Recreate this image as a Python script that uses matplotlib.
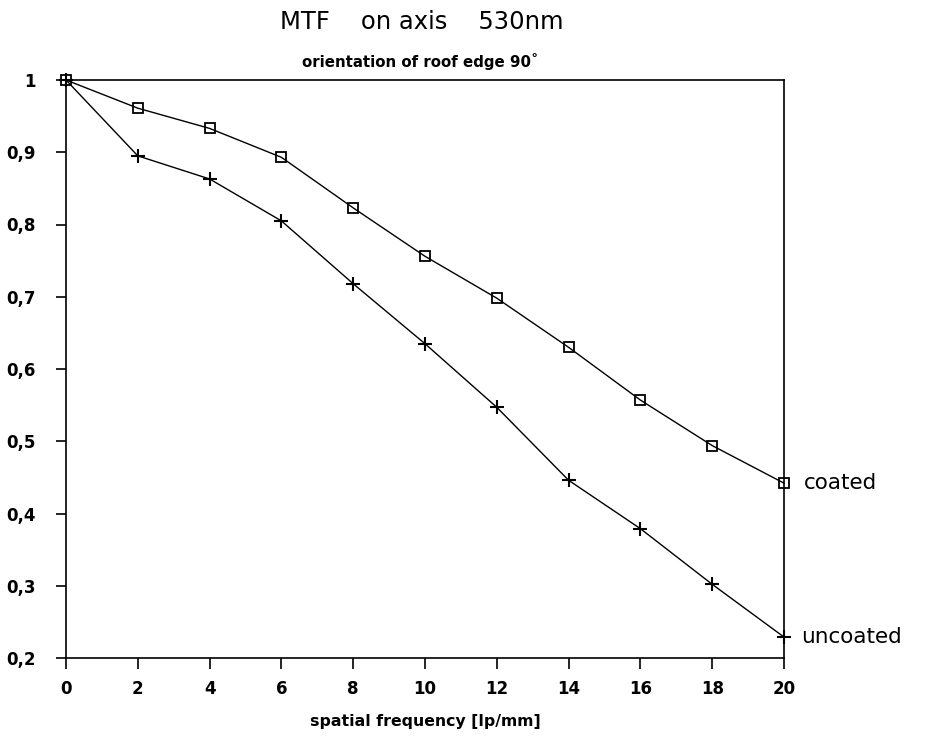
import matplotlib
matplotlib.use("Agg")
import matplotlib.pyplot as plt
from matplotlib.ticker import FixedLocator, FuncFormatter

# data
freq = [0, 2, 4, 6, 8, 10, 12, 14, 16, 18, 20]
coated = [1.0, 0.961, 0.933, 0.893, 0.823, 0.756, 0.698, 0.630, 0.557, 0.494, 0.442]
uncoated = [1.0, 0.895, 0.863, 0.805, 0.718, 0.635, 0.547, 0.446, 0.379, 0.302, 0.229]
x_ticks = [0, 2, 4, 6, 8, 10, 12, 14, 16, 18, 20]
y_ticks = [0.2, 0.3, 0.4, 0.5, 0.6, 0.7, 0.8, 0.9, 1.0]

plt.rcParams['font.family'] = ['DejaVu Sans']

fig = plt.figure(figsize=(9.26, 7.38), dpi=100)
W, H = 926, 738
left, right, top, bottom = 66, 784, 80, 658
ax = fig.add_axes([left / W, 1 - bottom / H, (right - left) / W, (bottom - top) / H])

ax.plot(freq, coated, color='black', lw=1.0, marker='s', markersize=7.5,
        markerfacecolor='none', markeredgecolor='black', markeredgewidth=1.3,
        clip_on=False)
ax.plot(freq, uncoated, color='black', lw=1.0, marker='+', markersize=10,
        markeredgewidth=1.5, clip_on=False)

ax.set_xlim(0, 20)
ax.set_ylim(0.2, 1.0)
ax.xaxis.set_major_locator(FixedLocator(x_ticks))
ax.yaxis.set_major_locator(FixedLocator(y_ticks))

def yfmt(v, pos):
    if abs(v - 1.0) < 1e-9:
        return "1"
    return ("%.1f" % v).replace('.', ',')

ax.yaxis.set_major_formatter(FuncFormatter(yfmt))
ax.tick_params(axis='x', direction='out', length=8, width=1.2, pad=8,
               labelsize=12)
ax.tick_params(axis='y', direction='out', length=7, width=1.2, pad=15,
               labelsize=12)
for lab in ax.get_xticklabels() + ax.get_yticklabels():
    lab.set_fontweight('bold')

for sp in ax.spines.values():
    sp.set_linewidth(1.2)
    sp.set_color('black')

ax.annotate('coated', xy=(freq[-1], coated[-1]), xytext=(14, 0),
            textcoords='offset points', fontsize=15.5, va='center', ha='left')
ax.annotate('uncoated', xy=(freq[-1], uncoated[-1]), xytext=(12, 0),
            textcoords='offset points', fontsize=15.5, va='center', ha='left')

ax.set_xlabel('spatial frequency [lp/mm]', fontsize=11.3, fontweight='bold')
ax.xaxis.set_label_coords(0.5, (bottom - 714) / (bottom - top))

fig.text(422 / W, 1 - 22 / H, 'MTF    on axis    530nm', fontsize=17.5,
         ha='center', va='center')
fig.text(420 / W, 1 - 62 / H, 'orientation of roof edge 90\u02da', fontsize=10.8,
         fontweight='bold', ha='center', va='center')

fig.savefig('out.png', dpi=100)
